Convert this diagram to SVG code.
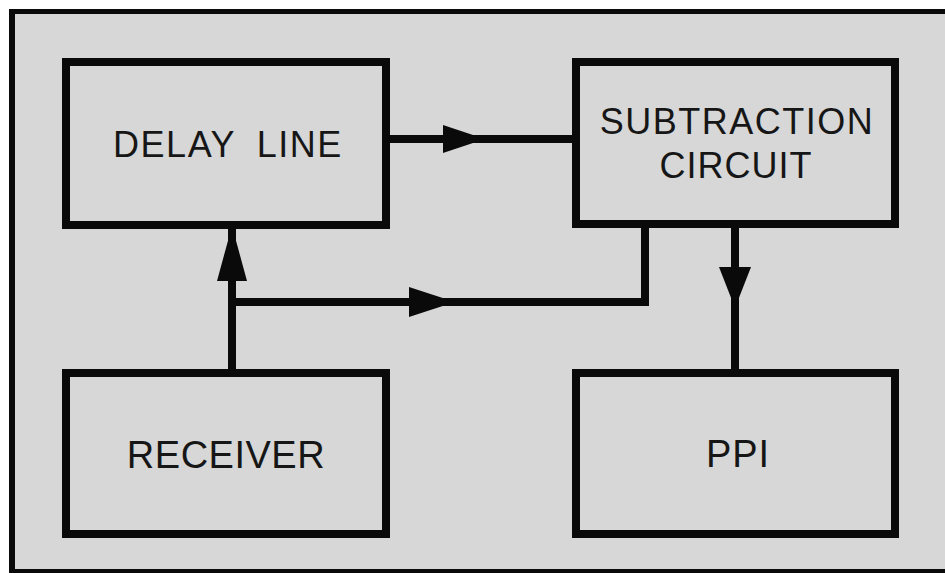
<svg xmlns="http://www.w3.org/2000/svg" width="945" height="573" viewBox="0 0 945 573">
<style>
.box{fill:none;stroke:#0a0a0a;stroke-width:8}
.wire{fill:none;stroke:#0a0a0a;stroke-width:8;stroke-linejoin:miter;stroke-linecap:butt}
.head{fill:#0a0a0a}
.lbl{font-family:"Liberation Sans",Arial,sans-serif;font-size:36px;fill:#161616;text-anchor:middle;letter-spacing:1.5px}
</style>
<rect x="0" y="0" width="945" height="573" fill="#ffffff"/>
<rect x="9" y="9" width="936" height="564" fill="#d7d7d7"/>
<g id="frame" fill="#0a0a0a">
<rect x="9" y="9" width="936" height="5"/>
<rect x="9" y="9" width="6" height="564"/>
<rect x="9" y="569" width="936" height="4"/>
</g>
<g id="connectors">
<path class="wire" d="M389,139 H572"/>
<polygon class="head" points="443,125 485,139 443,153"/>
<path class="wire" d="M232,369 V229"/>
<polygon class="head" points="217,281 232,226 247,281"/>
<path class="wire" d="M232,302 H645 V228"/>
<polygon class="head" points="409,287 455,302 409,317"/>
<path class="wire" d="M735,228 V369"/>
<polygon class="head" points="719,267 735,308 751,267"/>
</g>
<g id="delay-line">
<rect class="box" x="66" y="62" width="320" height="163"/>
<text class="lbl" x="228" y="157" word-spacing="10">DELAY LINE</text>
</g>
<g id="subtraction-circuit">
<rect class="box" x="576" y="62" width="319" height="162"/>
<text class="lbl" x="737" y="134">SUBTRACTION</text>
<text class="lbl" x="736" y="178" style="letter-spacing:1px">CIRCUIT</text>
</g>
<g id="receiver">
<rect class="box" x="66" y="373" width="320" height="161"/>
<text class="lbl" x="226" y="468" style="font-size:38px;letter-spacing:0.5px">RECEIVER</text>
</g>
<g id="ppi">
<rect class="box" x="576" y="373" width="319" height="161"/>
<text class="lbl" x="738" y="467" style="font-size:38px;letter-spacing:1px">PPI</text>
</g>
</svg>
